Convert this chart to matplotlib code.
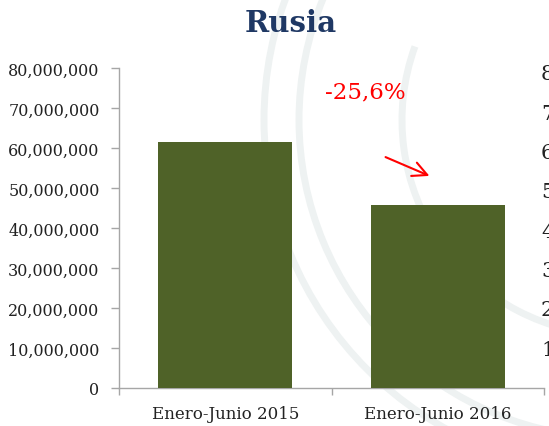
import matplotlib
matplotlib.use('Agg')
import matplotlib.pyplot as plt
from matplotlib.patches import Arc
import numpy as np

# data
categories = ['Enero-Junio 2015', 'Enero-Junio 2016']
values = [61500000, 45750000]
yticks = np.arange(0, 80000001, 10000000)
change_label = '-25,6%'
title = 'Rusia'
# digits of the neighbouring chart that is cut off on the right
cut_digits = ['8', '7', '6', '5', '4', '3', '2', '1']

W, H = 549, 427
BAR = '#4f6228'
GRID = '#a6a6a6'
plt.rcParams['font.family'] = ['DejaVu Serif']

fig = plt.figure(figsize=(W / 100, H / 100), dpi=100)

# faint watermark behind everything
bg = fig.add_axes([0, 0, 1, 1], zorder=-5)
bg.set_xlim(0, W)
bg.set_ylim(H, 0)
bg.axis('off')
for r in [353, 318]:
    bg.add_patch(Arc((617, 121), 2 * r, 2 * r, color='#eef2f2', lw=5))
bg.add_patch(Arc((617, 121), 430, 430, theta1=90, theta2=200, color='#eef2f2', lw=5))

ax = fig.add_axes([119 / W, 1 - 389 / H, (544 - 119) / W, (389 - 69) / H])
ax.patch.set_alpha(0)
x = np.arange(len(categories))
ax.bar(x, values, width=0.63, color=BAR, zorder=3)

ax.set_xlim(-0.5, len(categories) - 0.5)
ax.set_ylim(0, 80000000)
ax.set_yticks(yticks)
ax.set_yticklabels(['{:,}'.format(v) for v in yticks])
ax.set_xticks(x)
ax.set_xticklabels(categories)
ax.set_xticks(np.arange(-0.5, len(categories)), minor=True)
ax.tick_params(axis='x', which='major', length=0, pad=12, labelsize=12, labelcolor='#222222')
ax.tick_params(axis='x', which='minor', length=5, color=GRID, width=1)
ax.tick_params(axis='y', length=6, color=GRID, width=1, pad=8, labelsize=11.5, labelcolor='#222222')

for s in ['top', 'right']:
    ax.spines[s].set_visible(False)
for s in ['left', 'bottom']:
    ax.spines[s].set_color(GRID)
    ax.spines[s].set_linewidth(1)

# change annotation
fig.text(365 / W, 1 - 92 / H, change_label, color='red', fontsize=16.5, ha='center', va='center')
ax.annotate('', xy=(432 / W, 1 - 178 / H), xytext=(383 / W, 1 - 157 / H),
            xycoords='figure fraction', textcoords='figure fraction',
            arrowprops=dict(arrowstyle='->', color='red', lw=1.5, mutation_scale=26))

fig.text(291 / W, 1 - 23 / H, title, color='#1f3864', fontsize=21, fontweight='bold',
         ha='center', va='center')

for i, d in enumerate(cut_digits):
    fig.text(541 / W, 1 - (75 + 39.3 * i) / H, d, fontsize=15, color='#222222',
             ha='left', va='center')

fig.savefig('out.png', dpi=100)
